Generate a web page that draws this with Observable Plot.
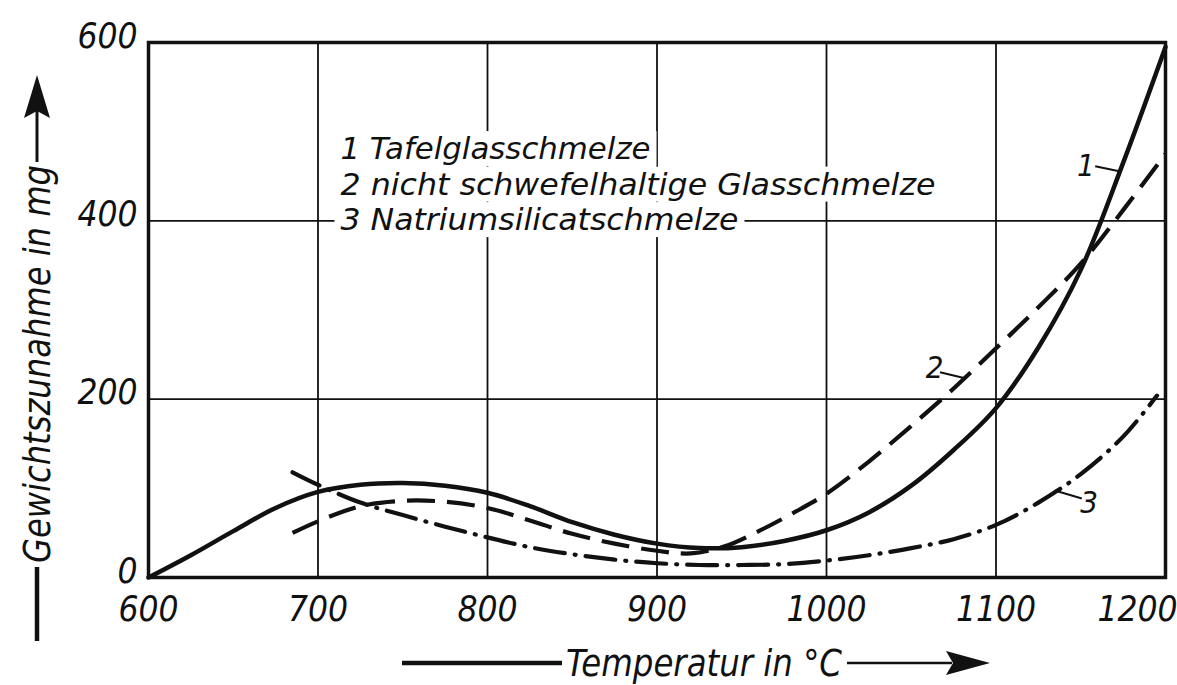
<!DOCTYPE html>
<html>
<head>
<meta charset="utf-8">
<script src="https://cdn.jsdelivr.net/npm/d3@7"></script>
<script src="https://cdn.jsdelivr.net/npm/@observablehq/plot@0.6"></script>
<style>
  body { margin: 0; background: #fff; }
  svg text { font-stretch: condensed; }
</style>
</head>
<body>
<div id="chart"></div>
<script>
// ---- data ----
const xTicks = [600, 700, 800, 900, 1000, 1100, 1200];
const yTicks = [0, 200, 400, 600];
const xLabel = "Temperatur in °C";
const yLabel = "Gewichtszunahme in mg";
const legendLines = [
  "1 Tafelglasschmelze",
  "2 nicht schwefelhaltige Glasschmelze",
  "3 Natriumsilicatschmelze"
];
const seriesLabels = ["1", "2", "3"];

// curve 1: Tafelglasschmelze (solid)
const temps1 = [600,625,650,675,700,725,750,775,800,825,850,875,900,925,950,975,1000,1025,1050,1075,1100,1125,1150,1175,1200];
const gain1  = [0,25,52,78,96,104,106,103,95,80,62,48,38,33,34,41,53,73,103,143,190,258,345,465,595];

// curve 2: nicht schwefelhaltige Glasschmelze (dashed)
const temps2 = [685,700,725,750,775,800,825,850,875,900,920,940,960,980,1000,1025,1050,1075,1100,1125,1150,1175,1200];
const gain2  = [50,63,80,86,85,78,64,49,38,30,27,35,52,72,94,130,170,212,257,303,352,412,475];

// curve 3: Natriumsilicatschmelze (dash-dot)
const temps3 = [685,700,725,750,775,800,825,850,875,900,925,950,975,1000,1025,1050,1075,1100,1125,1150,1175,1195];
const gain3  = [118,104,84,70,57,45,34,26,20,16,14,14,15,19,25,33,43,59,84,116,158,204];

// points on the curves where the number labels attach
const labelTemps = [1173, 1082, 1135];
const labelGains = [455, 223, 97];

// ---- build tables ----
const rows = (ts, vs) => ts.map((t, i) => ({t, v: vs[i]}));
const s1 = rows(temps1, gain1), s2 = rows(temps2, gain2), s3 = rows(temps3, gain3);
const anchors = seriesLabels.map((label, i) => ({label, t: labelTemps[i], v: labelGains[i]}));

const FONT = "'DejaVu Sans Condensed', 'DejaVu Sans', sans-serif";
const ink = "#111";
const fmt = d => String(d);

// label placement offsets (pixels, relative to anchor point)
const labelStyle = [
  {dx: -25, dy: -6, anchor: "end",   lx: -24, ly: -5},
  {dx: -22, dy: -11, anchor: "end",  lx: -25, ly: -6},
  {dx: 25, dy: 12, anchor: "start",  lx: 27,  ly: 8}
];

const legendDy = [107, 142.5, 178];

const plot = Plot.plot({
  width: 1177,
  height: 685,
  marginLeft: 148,
  marginRight: 12,
  marginTop: 42,
  marginBottom: 108,
  x: {domain: [600, 1200], label: null},
  y: {domain: [0, 600], label: null},
  style: {fontFamily: FONT, fontStyle: "oblique", background: "white", color: ink, overflow: "visible"},
  marks: [
    Plot.gridX(xTicks, {stroke: ink, strokeOpacity: 1, strokeWidth: 1.8}),
    Plot.gridY(yTicks, {stroke: ink, strokeOpacity: 1, strokeWidth: 1.8}),
    ...legendLines.map((line, i) => Plot.text([line], {
      frameAnchor: "top-left", dx: 192, dy: legendDy[i],
      fontSize: 30, textAnchor: "start", lineAnchor: "middle", fill: ink
    })),
    Plot.line(s3, {x: "t", y: "v", stroke: ink, strokeWidth: 4.2, curve: "catmull-rom",
      strokeDasharray: "30,10,1,10", strokeLinecap: "round"}),
    Plot.line(s2, {x: "t", y: "v", stroke: ink, strokeWidth: 4.2, curve: "catmull-rom",
      strokeDasharray: "28,12", strokeLinecap: "butt"}),
    Plot.line(s1, {x: "t", y: "v", stroke: ink, strokeWidth: 4.5, curve: "catmull-rom"}),
    Plot.frame({stroke: ink, strokeWidth: 3.5}),
    Plot.axisY(yTicks, {tickSize: 0, tickPadding: 11, fontSize: 35, label: null, tickFormat: fmt, dy: -6}),
    Plot.axisX(xTicks.slice(0, -1), {tickSize: 0, tickPadding: 19, fontSize: 35, label: null, tickFormat: fmt}),
    Plot.axisX(xTicks.slice(-1), {tickSize: 0, tickPadding: 19, fontSize: 35, label: null, tickFormat: fmt, textAnchor: "end", dx: 12}),
    Plot.text([yLabel], {frameAnchor: "left", rotate: -90, dx: -111, dy: 54, fontSize: 38,
      textAnchor: "middle", lineAnchor: "middle", fill: ink}),
    Plot.text([xLabel], {frameAnchor: "bottom", dx: 47, dy: 86, fontSize: 38,
      textAnchor: "middle", lineAnchor: "middle", fill: ink}),
    ...anchors.map((a, i) => Plot.text([a], {
      x: "t", y: "v", text: "label", dx: labelStyle[i].dx, dy: labelStyle[i].dy,
      textAnchor: labelStyle[i].anchor, lineAnchor: "middle", fontSize: 31, fill: ink
    }))
  ]
});

document.getElementById("chart").append(plot);

// stretch texts to the widths they take in the reference
const widths = new Map([
  [legendLines[0], 310], [legendLines[1], 595], [legendLines[2], 398],
  [xLabel, 276], [yLabel, 398]
]);
const svg = d3.select(plot);
svg.selectAll("text").each(function () {
  const w = widths.get(this.textContent);
  if (w) {
    this.setAttribute("textLength", w);
    this.setAttribute("lengthAdjust", "spacingAndGlyphs");
  }
});

// white boxes behind the legend lines (the grid is interrupted there)
const svgBox = plot.getBoundingClientRect();
const legendNodes = svg.selectAll("text").filter(function () { return legendLines.includes(this.textContent); }).nodes();
if (legendNodes.length) {
  const firstG = legendNodes[0].closest("g");
  const boxes = legendNodes.map(n => n.getBoundingClientRect());
  const bg = d3.select(firstG.parentNode).insert("g", () => firstG).attr("fill", "white");
  boxes.forEach(b => {
    bg.append("rect")
      .attr("x", b.left - svgBox.left - 6)
      .attr("y", b.top - svgBox.top)
      .attr("width", b.width + 12)
      .attr("height", b.height);
  });
}

// leader lines from labels to curves
const sx = plot.scale("x"), sy = plot.scale("y");
const deco = svg.append("g").attr("stroke", ink).attr("fill", "none");
anchors.forEach((a, i) => {
  const px = sx.apply(a.t), py = sy.apply(a.v);
  deco.append("line")
    .attr("x1", px).attr("y1", py)
    .attr("x2", px + labelStyle[i].lx).attr("y2", py + labelStyle[i].ly)
    .attr("stroke-width", 2);
});

// axis arrows (decoration)
const arr = svg.append("g").attr("stroke", ink).attr("fill", ink);
arr.append("line").attr("x1", 37).attr("x2", 37).attr("y1", 641).attr("y2", 567).attr("stroke-width", 4.5);
arr.append("line").attr("x1", 37).attr("x2", 37).attr("y1", 162).attr("y2", 110).attr("stroke-width", 3);
arr.append("path").attr("d", "M37,75 L50,118 L37,111 L24,118 Z").attr("stroke", "none");
arr.append("line").attr("x1", 402).attr("x2", 562).attr("y1", 663).attr("y2", 663).attr("stroke-width", 4.5);
arr.append("line").attr("x1", 847).attr("x2", 952).attr("y1", 663).attr("y2", 663).attr("stroke-width", 2.5);
arr.append("path").attr("d", "M990,663 L946,651 L953,663 L946,675 Z").attr("stroke", "none");
</script>
</body>
</html>
